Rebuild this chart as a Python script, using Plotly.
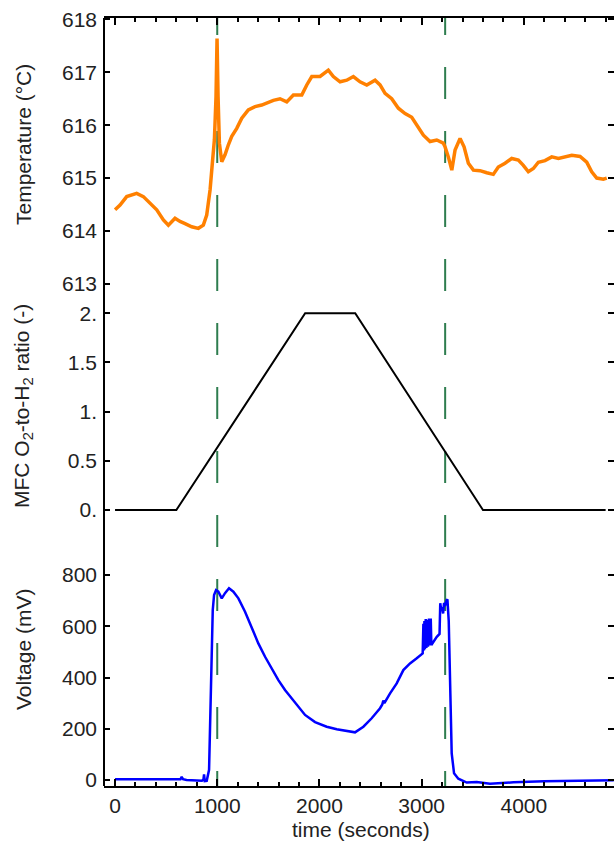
import plotly.graph_objects as go

# ---------------- data ----------------
temp_t = [0, 49, 114, 212, 277, 342, 408, 473, 522, 587, 636, 685, 750, 815, 864, 897, 930,
          952, 972, 988, 998, 1008, 1021, 1044, 1076, 1109, 1142, 1191, 1240, 1304, 1370,
          1435, 1500, 1549, 1614, 1680, 1745, 1827, 1876, 1925, 2006, 2087, 2136, 2202,
          2267, 2332, 2397, 2463, 2544, 2593, 2642, 2707, 2772, 2838, 2903, 2952, 3017,
          3082, 3148, 3212, 3229, 3261, 3295, 3327, 3376, 3415, 3457, 3506, 3571, 3637,
          3701, 3750, 3816, 3881, 3946, 3995, 4044, 4093, 4142, 4207, 4273, 4338, 4403,
          4469, 4550, 4615, 4664, 4713, 4778, 4811]
temp_v = [614.40, 614.49, 614.65, 614.71, 614.65, 614.52, 614.40, 614.21, 614.11, 614.24,
          614.18, 614.14, 614.08, 614.05, 614.11, 614.30, 614.78, 615.28, 615.72, 616.54,
          617.64, 616.54, 615.66, 615.31, 615.44, 615.63, 615.79, 615.94, 616.13, 616.29,
          616.35, 616.38, 616.44, 616.47, 616.50, 616.44, 616.57, 616.57, 616.76, 616.92,
          616.92, 617.04, 616.92, 616.82, 616.85, 616.92, 616.82, 616.76, 616.85, 616.76,
          616.60, 616.50, 616.32, 616.22, 616.15, 616.00, 615.81, 615.69, 615.72, 615.66,
          615.59, 615.40, 615.15, 615.53, 615.75, 615.59, 615.28, 615.15, 615.14, 615.10,
          615.07, 615.21, 615.28, 615.37, 615.34, 615.24, 615.12, 615.18, 615.30, 615.33,
          615.40, 615.37, 615.40, 615.43, 615.41, 615.30, 615.12, 615.00, 614.98, 615.00]

mfc_t = [0, 600, 1860, 2350, 3600, 4800]
mfc_v = [0, 0, 2, 2, 0, 0]

volt_t = [0, 200, 400, 600, 640, 652, 665, 700, 800, 850, 865, 871, 878, 897, 920, 933,
          946, 956, 969, 988, 1011, 1044, 1076, 1115, 1158, 1207, 1272, 1337, 1402, 1468,
          1533, 1598, 1663, 1729, 1794, 1859, 1957, 2071, 2169, 2267, 2348, 2430, 2511,
          2593, 2615, 2625, 2635, 2691, 2756, 2821, 2886, 2952, 3010, 3017, 3022, 3027,
          3032, 3040, 3046, 3055, 3062, 3072, 3080, 3089, 3095, 3148, 3175, 3182, 3190,
          3200, 3210, 3219, 3232, 3245, 3252, 3265, 3278, 3294, 3317, 3359, 3441, 3539,
          3669, 3898, 4200, 4500, 4880]
volt_v = [3, 3, 3, 3, 3, 12, 3, 0, -2, -3, 2, 22, -4, -3, 40, 300,
          560, 663, 722, 741, 735, 709, 729, 748, 735, 709, 657, 592, 533, 481,
          436, 390, 351, 319, 286, 254, 226, 208, 198, 191, 186, 208, 241,
          280, 295, 310, 300, 338, 377, 429, 455, 475, 494, 610, 505, 620,
          510, 628, 515, 625, 520, 630, 525, 630, 527, 559, 570, 690, 668,
          672, 650, 690, 685, 702, 705, 620, 351, 104, 26, 5, -10, -8,
          -15, -9, -5, -3, -1]

event_t = [1000, 3230]

temp_ticks = [613, 614, 615, 616, 617, 618]
mfc_ticks = [0, 0.5, 1, 1.5, 2]
mfc_ticktext = ["0.", "0.5", "1.", "1.5", "2."]
volt_ticks = [0, 200, 400, 600, 800]
x_ticks = [0, 1000, 2000, 3000, 4000]

# ---------------- figure ----------------
FONT = "Liberation Sans, Arial, sans-serif"
FS = 21
fig = go.Figure()

fig.add_trace(go.Scatter(x=temp_t, y=temp_v, mode="lines", yaxis="y",
                         line=dict(color="#ff8000", width=3.5), showlegend=False))
fig.add_trace(go.Scatter(x=mfc_t, y=mfc_v, mode="lines", yaxis="y2",
                         line=dict(color="black", width=2), showlegend=False))
fig.add_trace(go.Scatter(x=volt_t, y=volt_v, mode="lines", yaxis="y3",
                         line=dict(color="#0000ff", width=2.5), showlegend=False))

dash = ",".join(["17px", "32px"] + ["32px", "32px"] * 12)
for t in event_t:
    fig.add_shape(type="line", xref="x", yref="paper", x0=t, x1=t, y0=1, y1=0,
                  line=dict(color="#2e7d4f", width=2, dash=dash), layer="below")

# left frame line
fig.add_shape(type="line", xref="paper", yref="paper", x0=0, x1=0, y0=0, y1=1,
              line=dict(color="black", width=2), layer="above")

common_y = dict(domain=[0, 1], showgrid=False, zeroline=False, showline=False,
                ticks="inside", ticklen=6, tickwidth=2, tickcolor="black",
                mirror="ticks", ticklabelstandoff=6,
                tickfont=dict(family=FONT, size=FS, color="#222"))

fig.update_layout(
    width=614, height=841,
    margin=dict(l=104, r=0, t=18, b=55),
    paper_bgcolor="white", plot_bgcolor="white",
    xaxis=dict(range=[-108, 4882], tickvals=x_ticks, ticks="inside", ticklen=7,
               tickwidth=2, tickcolor="black", showline=True, linecolor="black",
               linewidth=2, mirror="ticks", showgrid=False, zeroline=False,
               minor=dict(dtick=200, ticks="inside", ticklen=4, tickwidth=2,
                          tickcolor="black", showgrid=False),
               tickfont=dict(family=FONT, size=FS, color="#222")),
    yaxis=dict(range=[603.508, 618.026], tickvals=temp_ticks, **common_y),
    yaxis2=dict(range=[-2.808, 5.004], tickvals=mfc_ticks, ticktext=mfc_ticktext,
                overlaying="y", anchor="x", side="left", **common_y),
    yaxis3=dict(range=[-23.4, 2973.7], tickvals=volt_ticks,
                overlaying="y", anchor="x", side="left", **common_y),
)

def ytitle(text, ypix):
    fig.add_annotation(text=text, xref="paper", yref="paper",
                       x=(23 - 104) / 510, y=(786 - ypix) / 768,
                       textangle=-90, showarrow=False, xanchor="center", yanchor="middle",
                       font=dict(family=FONT, size=FS, color="#222"))

ytitle("Temperature (°C)", 145)
ytitle("MFC O<sub>2</sub>-to-H<sub>2</sub> ratio (-)", 406)
ytitle("Voltage (mV)", 650)

fig.add_annotation(text="time (seconds)", xref="paper", yref="paper",
                   x=(361 - 104) / 510, y=(786 - 829) / 768, showarrow=False,
                   xanchor="center", yanchor="middle",
                   font=dict(family=FONT, size=FS, color="#222"))

fig.write_html("out.html")
